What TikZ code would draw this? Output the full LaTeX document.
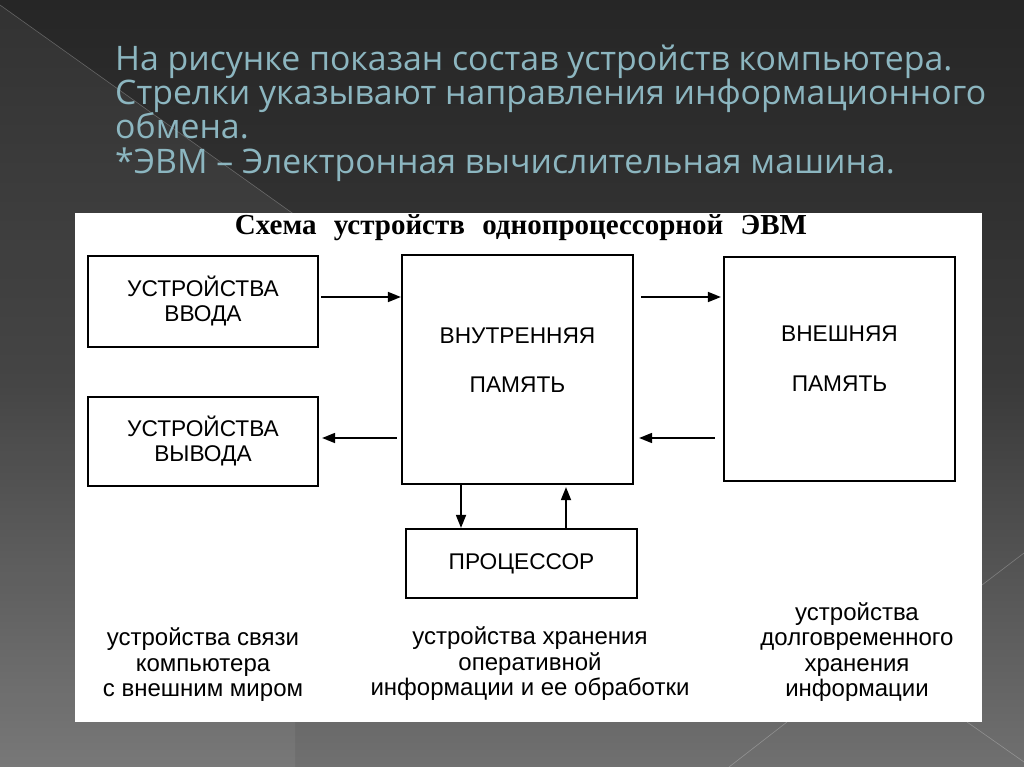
\documentclass[tikz,border=0pt]{standalone}
\usepackage{fontspec}
\setmainfont{Liberation Sans}
\newfontfamily\headfont{Open Sans}
\newfontfamily\serifb{Liberation Serif}
\usetikzlibrary{arrows.meta,calc}
\definecolor{headcol}{RGB}{140,182,192}
\definecolor{bgtop}{RGB}{38,38,38}
\definecolor{bgmid}{RGB}{58,58,58}
\definecolor{bgbot}{RGB}{112,112,112}
\tikzset{
  box/.style={draw=black, line width=2.2pt, minimum width=#1, inner sep=0pt, align=center, font=\fontsize{22.7}{25}\selectfont},
  arr/.style={line width=1.7pt, -{Triangle[length=13pt,width=10pt]}},
  lbl/.style={align=center, font=\fontsize{24}{25.5}\selectfont, inner sep=0pt},
  headline/.style={anchor=base west, text=headcol, font=\headfont\fontsize{33.8}{34}\selectfont, inner sep=0pt},
  deco/.style={draw=white, opacity=0.25, line width=0.6pt}
}
\begin{document}
\begin{tikzpicture}[x=1pt,y=-1pt]
\useasboundingbox (0,0) rectangle (1024,767);
% background
\shade[top color=bgtop, bottom color=bgbot, middle color=bgmid] (0,0) rectangle (1024,767);
\fill[white, opacity=0.06] (0,5) -- (295,215) -- (295,767) -- (0,767) -- cycle;
\draw[deco] (0,5) -- (295,215);
\draw[deco] (1024,553) -- (982,585);
\draw[deco] (967,722) -- (1024,762);
\draw[deco] (787,722) -- (729,767);
% heading text
\node[headline] (h1) at (115,71) {На рисунке показан состав устройств компьютера.};
\node[headline] (h2) at (115,105) {Стрелки указывают направления информационного};
\node[headline] (h3) at (115,139) {обмена.};
\node[headline] (h4) at (115,174) {*ЭВМ – Электронная вычислительная машина.};
% panel
\fill[white] (75,213) rectangle (982,722);
\node[font=\serifb\bfseries\fontsize{29}{30}\selectfont, inner sep=0pt] (title) at (521,228)
  {Схема\hspace{10pt} устройств\hspace{10pt} однопроцессорной\hspace{10pt} ЭВМ};
% boxes
\node[box=230pt, minimum height=91pt] (in) at (203,301.5) {УСТРОЙСТВА\\ВВОДА};
\node[box=230pt, minimum height=89pt] (out) at (203,441.5) {УСТРОЙСТВА\\ВЫВОДА};
\node[box=231pt, minimum height=229pt] (inner) at (517.5,369.5) {};
\node[box=231pt, minimum height=224pt] (ext) at (839.5,369) {};
\node[box=231pt, minimum height=69pt] (cpu) at (521.5,563.5) {ПРОЦЕССОР};
\node[align=center, font=\fontsize{22.7}{49}\selectfont, inner sep=0pt] (innerT) at (517.5,360) {ВНУТРЕННЯЯ\\ПАМЯТЬ};
\node[align=center, font=\fontsize{22.7}{50}\selectfont, inner sep=0pt] (extT) at (839.5,359) {ВНЕШНЯЯ\\ПАМЯТЬ};
% helper coordinates
\coordinate (r1) at (0,297);
\coordinate (r2) at (0,438);
\coordinate (c1) at (461,0);
\coordinate (c2) at (566,0);
% arrows
\draw[arr] ([xshift=2pt]in.east |- r1) -- (inner.west |- r1);
\draw[arr] ([xshift=-4pt]inner.west |- r2) -- ([xshift=3pt]out.east |- r2);
\draw[arr] ([xshift=7pt]inner.east |- r1) -- ([xshift=-2pt]ext.west |- r1);
\draw[arr] ([xshift=-8pt]ext.west |- r2) -- ([xshift=5pt]inner.east |- r2);
\draw[arr] (inner.south -| c1) -- (cpu.north -| c1);
\draw[arr] (cpu.north -| c2) -- ([yshift=-2pt]inner.south -| c2);
% bottom labels
\node[lbl] (l1) at (203,665) {устройства связи\\компьютера\\с внешним миром};
\node[lbl] (l2) at (530,664) {устройства хранения\\оперативной\\информации и ее обработки};
\node[lbl] (l3) at (857,652) {устройства\\долговременного\\хранения\\информации};
\end{tikzpicture}
\end{document}
